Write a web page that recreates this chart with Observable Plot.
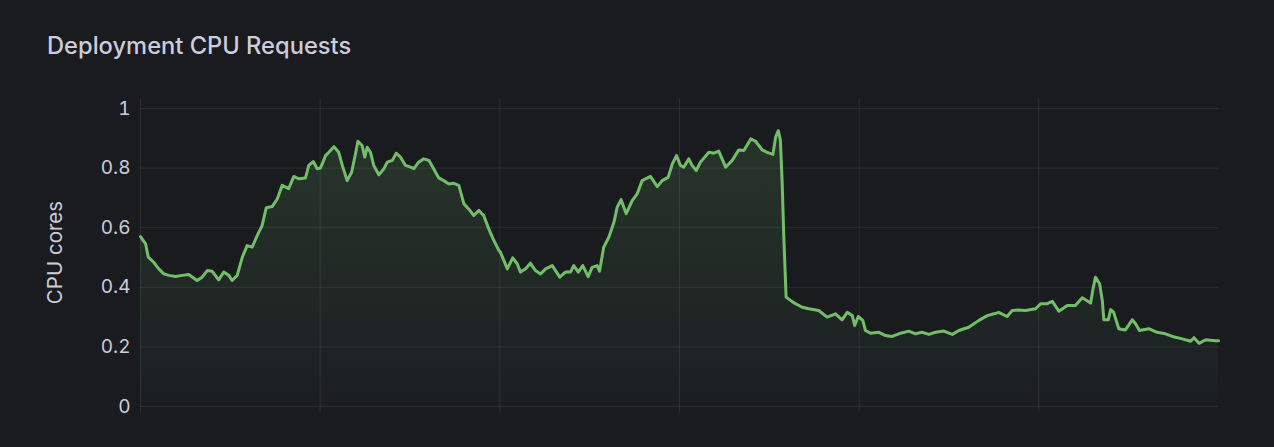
<!DOCTYPE html>
<html><head><meta charset="utf-8">
<script src="https://cdn.jsdelivr.net/npm/d3@7"></script>
<script src="https://cdn.jsdelivr.net/npm/@observablehq/plot@0.6"></script>
<style>
html,body{margin:0;padding:0;background:#191b1f;}
body{width:1274px;height:447px;overflow:hidden;font-family:Inter,"Noto Sans",sans-serif;}
#title{height:70px;box-sizing:border-box;padding-left:47px;padding-top:34px;color:#ccccdc;font-size:23.7px;font-weight:500;line-height:24px;}
#chart svg{display:block;}
</style></head><body>
<div id="title">Deployment CPU Requests</div>
<div id="chart"></div>
<script>
// time offset in minutes across the 6-hour window
const minutes = [0,1.7,2.6,4.4,6.1,7.8,9.5,11.7,13.9,16.1,18.9,20.6,22.3,23.9,26.1,27.8,29.5,30.6,32.3,34.0,35.6,37.3,39.0,40.6,42.0,44.0,45.7,47.3,49.5,51.2,52.9,55.1,56.2,57.7,59.0,60.1,
61.8,62.9,64.6,66.2,67.4,69.0,70.5,71.8,72.6,74.0,74.9,75.7,76.8,77.9,79.6,81.3,82.4,84.1,85.4,86.8,88.5,90.2,91.3,92.9,94.6,96.3,97.9,99.6,101.3,103.0,104.6,106.3,108.0,109.6,111.3,113.0,114.6,116.3,118.0,119.7,
120.2,122.5,124.3,125.8,126.9,128.6,130.2,131.9,133.6,135.3,137.5,140.0,141.9,143.6,144.7,146.2,147.7,149.5,150.8,152.5,153.3,154.7,156.4,158.1,159.2,160.5,162.2,164.2,165.9,167.5,170.3,172.6,174.2,176.2,177.6,179.0,180.3,
181.4,183.1,184.2,185.6,187.0,189.8,191.5,193.1,195.4,197.6,199.8,201.5,203.8,205.4,207.6,209.3,211.2,212.1,213.0,213.7,214.3,214.8,215.6,217.1,218.7,221.0,223.2,226.5,229.3,232.1,234.3,236.0,237.7,238.5,239.7,
241.2,242.1,243.8,246.6,248.8,251.0,253.2,256.6,258.8,261.0,263.3,265.5,268.3,271.1,273.3,276.6,280.0,282.8,285.0,286.6,289.4,291.1,293.3,295.5,298.9,300.6,
302.8,304.5,306.7,309.5,312.2,314.5,317.3,318.0,318.9,320.3,321.2,321.7,323.2,324.0,325.0,326.7,328.9,331.2,332.3,333.6,336.7,339.5,342.3,344.6,347.9,350.7,351.8,353.5,355.7,359.0,360];

// CPU cores requested
const cores = [0.570,0.546,0.501,0.484,0.462,0.445,0.440,0.436,0.440,0.443,0.423,0.434,0.456,0.454,0.425,0.451,0.440,0.423,0.440,0.501,0.540,0.535,0.574,0.607,0.667,0.671,0.697,0.742,0.731,0.772,0.764,0.767,0.809,0.822,0.798,0.800,
0.842,0.853,0.872,0.853,0.809,0.758,0.786,0.848,0.890,0.876,0.837,0.870,0.853,0.809,0.778,0.798,0.820,0.826,0.850,0.837,0.809,0.803,0.798,0.820,0.831,0.826,0.798,0.767,0.758,0.747,0.749,0.742,0.680,0.663,0.641,0.658,0.641,0.596,0.557,0.523,
0.518,0.462,0.499,0.479,0.451,0.462,0.481,0.456,0.445,0.462,0.473,0.434,0.451,0.451,0.473,0.451,0.473,0.436,0.467,0.473,0.454,0.535,0.568,0.618,0.669,0.694,0.647,0.691,0.714,0.758,0.772,0.738,0.758,0.769,0.814,0.842,0.809,
0.803,0.831,0.809,0.792,0.820,0.853,0.850,0.857,0.803,0.826,0.861,0.859,0.898,0.890,0.861,0.853,0.846,0.904,0.926,0.893,0.747,0.580,0.367,0.356,0.345,0.333,0.328,0.322,0.300,0.311,0.291,0.316,0.305,0.272,0.302,
0.289,0.255,0.246,0.249,0.238,0.235,0.244,0.253,0.244,0.249,0.242,0.249,0.253,0.242,0.255,0.266,0.289,0.305,0.311,0.316,0.302,0.322,0.324,0.322,0.328,0.345,
0.345,0.353,0.320,0.339,0.339,0.365,0.347,0.389,0.434,0.412,0.356,0.291,0.291,0.325,0.316,0.261,0.257,0.291,0.278,0.255,0.261,0.249,0.244,0.235,0.227,0.219,0.231,0.212,0.224,0.221,0.221];

const yTicks = [0, 0.2, 0.4, 0.6, 0.8, 1];
const xGrid = [0, 60, 120, 180, 240, 300];
const yLabel = "CPU cores";

const rows = minutes.map((m, i) => ({m, v: cores[i]}));

const chart = Plot.plot({
  width: 1274,
  height: 377,
  marginLeft: 140,
  marginRight: 56,
  marginTop: 38,
  marginBottom: 41,
  style: {background: "transparent", color: "#ccccdc", fontFamily: "Inter, 'Noto Sans', sans-serif"},
  x: {domain: [0, 360], axis: null},
  y: {domain: [0, 1], axis: null},
  marks: [
    Plot.ruleY(yTicks, {stroke: "#ccccdc", strokeOpacity: 0.1}),
    Plot.ruleX(xGrid, {x: d => d, y1: -0.022, y2: 1.033, stroke: "#ccccdc", strokeOpacity: 0.1}),
    Plot.areaY(rows, {x: "m", y: "v", fill: "url(#cpuFill)"}),
    Plot.lineY(rows, {x: "m", y: "v", stroke: "#73bf69", strokeWidth: 3, strokeLinejoin: "round"}),
    Plot.axisY(yTicks, {tickSize: 0, tickPadding: 10, fontSize: 19, fill: "#ccccdc", label: null, tickFormat: d => String(d)}),
    Plot.text([yLabel], {frameAnchor: "left", dx: -85, dy: -5, rotate: -90, textAnchor: "middle", text: d => d, fontSize: 20.5, fill: "#ccccdc"})
  ]
});

const defs = d3.select(chart).insert("defs", ":first-child");
const g = defs.append("linearGradient").attr("id", "cpuFill").attr("x1", 0).attr("y1", 0).attr("x2", 0).attr("y2", 1);
g.append("stop").attr("offset", "0%").attr("stop-color", "#73bf69").attr("stop-opacity", 0.16);
g.append("stop").attr("offset", "100%").attr("stop-color", "#73bf69").attr("stop-opacity", 0.02);

document.getElementById("chart").appendChild(chart);
</script>
</body></html>
